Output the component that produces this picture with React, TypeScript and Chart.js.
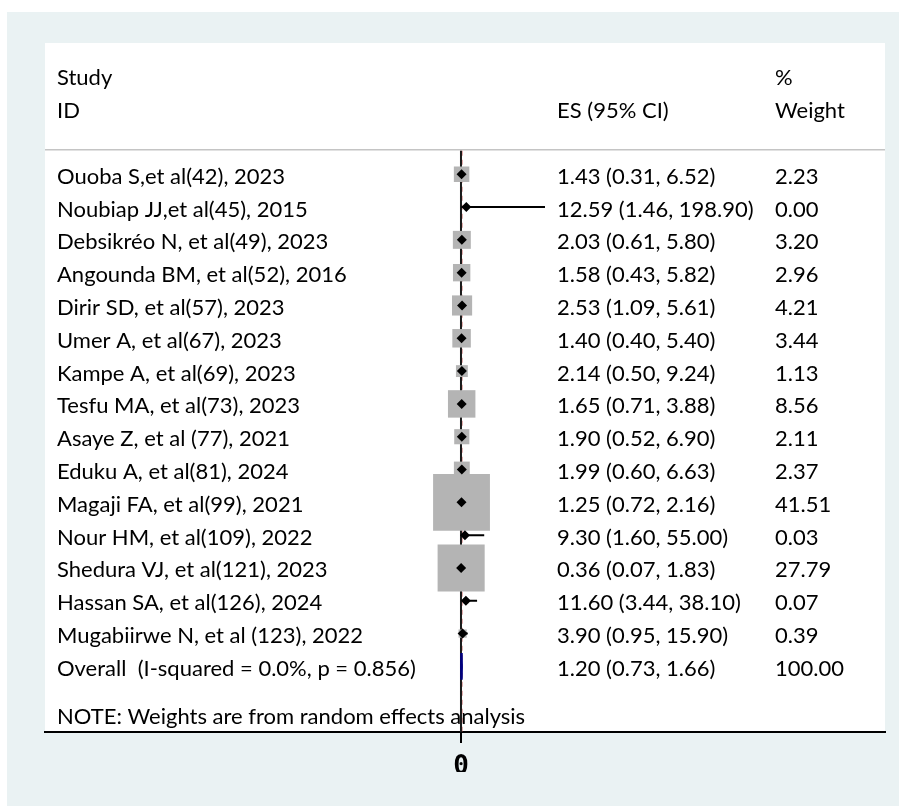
import React, { useEffect, useRef } from "react";
import { Chart, registerables } from "chart.js";

Chart.register(...registerables);

const studies = [
  "Ouoba S,et al(42), 2023",
  "Noubiap JJ,et al(45), 2015",
  "Debsikréo N, et al(49), 2023",
  "Angounda BM, et al(52), 2016",
  "Dirir SD, et al(57), 2023",
  "Umer A, et al(67), 2023",
  "Kampe A, et al(69), 2023",
  "Tesfu MA, et al(73), 2023",
  "Asaye Z, et al (77), 2021",
  "Eduku A, et al(81), 2024",
  "Magaji FA, et al(99), 2021",
  "Nour HM, et al(109), 2022",
  "Shedura VJ, et al(121), 2023",
  "Hassan SA, et al(126), 2024",
  "Mugabiirwe N, et al (123), 2022",
];
const es = [1.43, 12.59, 2.03, 1.58, 2.53, 1.4, 2.14, 1.65, 1.9, 1.99, 1.25, 9.3, 0.36, 11.6, 3.9];
const ciLow = [0.31, 1.46, 0.61, 0.43, 1.09, 0.4, 0.5, 0.71, 0.52, 0.6, 0.72, 1.6, 0.07, 3.44, 0.95];
const ciHigh = [6.52, 198.9, 5.8, 5.82, 5.61, 5.4, 9.24, 3.88, 6.9, 6.63, 2.16, 55.0, 1.83, 38.1, 15.9];
const weights = [2.23, 0.0, 3.2, 2.96, 4.21, 3.44, 1.13, 8.56, 2.11, 2.37, 41.51, 0.03, 27.79, 0.07, 0.39];

const overallLabel = "Overall  (I-squared = 0.0%, p = 0.856)";
const overallES = 1.2;
const overallLow = 0.73;
const overallHigh = 1.66;
const overallWeight = 100.0;

const noteText = "NOTE: Weights are from random effects analysis";
const headerStudy = ["Study", "ID"];
const headerES = "ES (95% CI)";
const headerWeight = ["%", "Weight"];
const xTickValues = [0];
const xMin = -985;
const xMax = 1004;

const FONT = '22px Lato, "Open Sans", sans-serif';
const BASE_OFF = 9.5;

const forestPlugin = {
  id: "forestPlugin",
  beforeDraw(chart: any) {
    const { ctx, chartArea: ca } = chart;
    ctx.save();
    ctx.fillStyle = "#eaf2f3";
    ctx.fillRect(7, 12, chart.width - 7, chart.height - 12);
    ctx.fillStyle = "#ffffff";
    ctx.fillRect(ca.left, ca.top, ca.right - ca.left, ca.bottom - ca.top);
    ctx.restore();
  },
  beforeDatasetsDraw(chart: any) {
    const { ctx, chartArea: ca } = chart;
    const xs = chart.scales.x;
    const ys = chart.scales.y;
    ctx.save();
    ctx.font = FONT;
    ctx.fillStyle = "#000";
    ctx.textBaseline = "alphabetic";
    ctx.textAlign = "left";
    const colStudy = 57;
    const colES = 557;
    const colW = 775;
    const ty = (row: number) => ys.getPixelForValue(row) + BASE_OFF;
    ctx.fillText(headerStudy[0], colStudy, ty(-2));
    ctx.fillText(headerStudy[1], colStudy, ty(-1));
    ctx.fillText(headerES, colES, ty(-1));
    ctx.fillText(headerWeight[0], colW, ty(-2));
    ctx.fillText(headerWeight[1], colW, ty(-1));
    studies.forEach((s, i) => {
      const y = ty(i + 1);
      ctx.fillText(s, colStudy, y);
      ctx.fillText(
        `${es[i].toFixed(2)} (${ciLow[i].toFixed(2)}, ${ciHigh[i].toFixed(2)})`,
        colES,
        y
      );
      ctx.fillText(weights[i].toFixed(2), colW, y);
    });
    const yo = ty(studies.length + 1);
    ctx.fillText(overallLabel, colStudy, yo);
    ctx.fillText(
      `${overallES.toFixed(2)} (${overallLow.toFixed(2)}, ${overallHigh.toFixed(2)})`,
      colES,
      yo
    );
    ctx.fillText(overallWeight.toFixed(2), colW, yo);
    ctx.fillText(noteText, colStudy, ty(studies.length + 2.47));

    // header separator
    const yh = ys.getPixelForValue(0.25);
    ctx.strokeStyle = "#c4c4c4";
    ctx.lineWidth = 1.5;
    ctx.beginPath();
    ctx.moveTo(ca.left, yh);
    ctx.lineTo(ca.right, yh);
    ctx.stroke();

    // overall effect dashed line
    const xo = xs.getPixelForValue(overallES);
    ctx.strokeStyle = "rgba(192,80,77,0.45)";
    ctx.lineWidth = 3;
    ctx.setLineDash([5, 4]);
    ctx.beginPath();
    ctx.moveTo(xo, yh + 1);
    ctx.lineTo(xo, ca.bottom);
    ctx.stroke();
    ctx.setLineDash([]);

    // null line
    const x0 = xs.getPixelForValue(0);
    ctx.strokeStyle = "#1a1a1a";
    ctx.lineWidth = 2;
    ctx.beginPath();
    ctx.moveTo(x0, yh + 1);
    ctx.lineTo(x0, ca.bottom);
    ctx.stroke();
    ctx.restore();
  },
  afterDatasetsDraw(chart: any) {
    const { ctx } = chart;
    const xs = chart.scales.x;
    const ys = chart.scales.y;
    const row = studies.length + 1;
    const h = 0.41;
    ctx.save();
    ctx.fillStyle = "#000080";
    ctx.strokeStyle = "#000080";
    ctx.lineWidth = 2.5;
    ctx.beginPath();
    ctx.moveTo(xs.getPixelForValue(overallLow), ys.getPixelForValue(row));
    ctx.lineTo(xs.getPixelForValue(overallES), ys.getPixelForValue(row - h));
    ctx.lineTo(xs.getPixelForValue(overallHigh), ys.getPixelForValue(row));
    ctx.lineTo(xs.getPixelForValue(overallES), ys.getPixelForValue(row + h));
    ctx.closePath();
    ctx.fill();
    ctx.stroke();
    ctx.restore();
  },
};

export default function App() {
  const ref = useRef<HTMLCanvasElement | null>(null);
  useEffect(() => {
    if (!ref.current) return;
    const points = es.map((v, i) => ({ x: v, y: i + 1 }));
    const ciData: any[] = [];
    es.forEach((_, i) => {
      ciData.push({ x: ciLow[i], y: i + 1 });
      ciData.push({ x: ciHigh[i], y: i + 1 });
      ciData.push({ x: null, y: null });
    });
    const chart = new Chart(ref.current, {
      type: "scatter",
      data: {
        datasets: [
          {
            label: "ES",
            data: points,
            pointStyle: "rectRot",
            pointRadius: 5,
            backgroundColor: "#000",
            borderColor: "#000",
            borderWidth: 0,
            order: 1,
          } as any,
          {
            type: "line",
            label: "CI",
            data: ciData,
            borderColor: "#000",
            borderWidth: 2,
            pointRadius: 0,
            spanGaps: false,
            showLine: true,
            order: 2,
          } as any,
          {
            label: "Weight",
            data: points,
            pointStyle: "rect",
            pointRadius: weights.map((w) => (3 + 8.36 * Math.sqrt(w)) / Math.SQRT2),
            backgroundColor: "#b4b4b4",
            borderColor: "#b4b4b4",
            borderWidth: 0,
            order: 3,
          } as any,
        ],
      },
      options: {
        animation: false,
        responsive: false,
        events: [],
        layout: { autoPadding: false, padding: { left: 45, right: 14, top: 43, bottom: 34 } },
        plugins: { legend: { display: false }, tooltip: { enabled: false } },
        scales: {
          x: {
            type: "linear",
            min: xMin,
            max: xMax,
            afterBuildTicks: (s: any) => {
              s.ticks = xTickValues.map((v) => ({ value: v }));
            },
            afterFit: (s: any) => {
              s.height = 40;
            },
            grid: {
              display: true,
              drawOnChartArea: false,
              drawTicks: true,
              tickLength: 11,
              color: "#000",
              lineWidth: 2,
            },
            border: { display: true, color: "#000", width: 2 },
            ticks: {
              color: "#000",
              padding: 9,
              maxRotation: 0,
              font: { family: "DejaVu Sans Mono, monospace", size: 26, weight: "bold" },
              callback: (v: any) => String(v),
            },
          },
          y: { type: "linear", display: false, min: -3, max: 18, reverse: true },
        },
      } as any,
      plugins: [forestPlugin],
    });
    return () => chart.destroy();
  }, []);
  return (
    <div style={{ position: "absolute", left: 0, top: 0, width: 899, height: 806 }}>
      <canvas ref={ref} width={899} height={806} style={{ display: "block" }} />
    </div>
  );
}
